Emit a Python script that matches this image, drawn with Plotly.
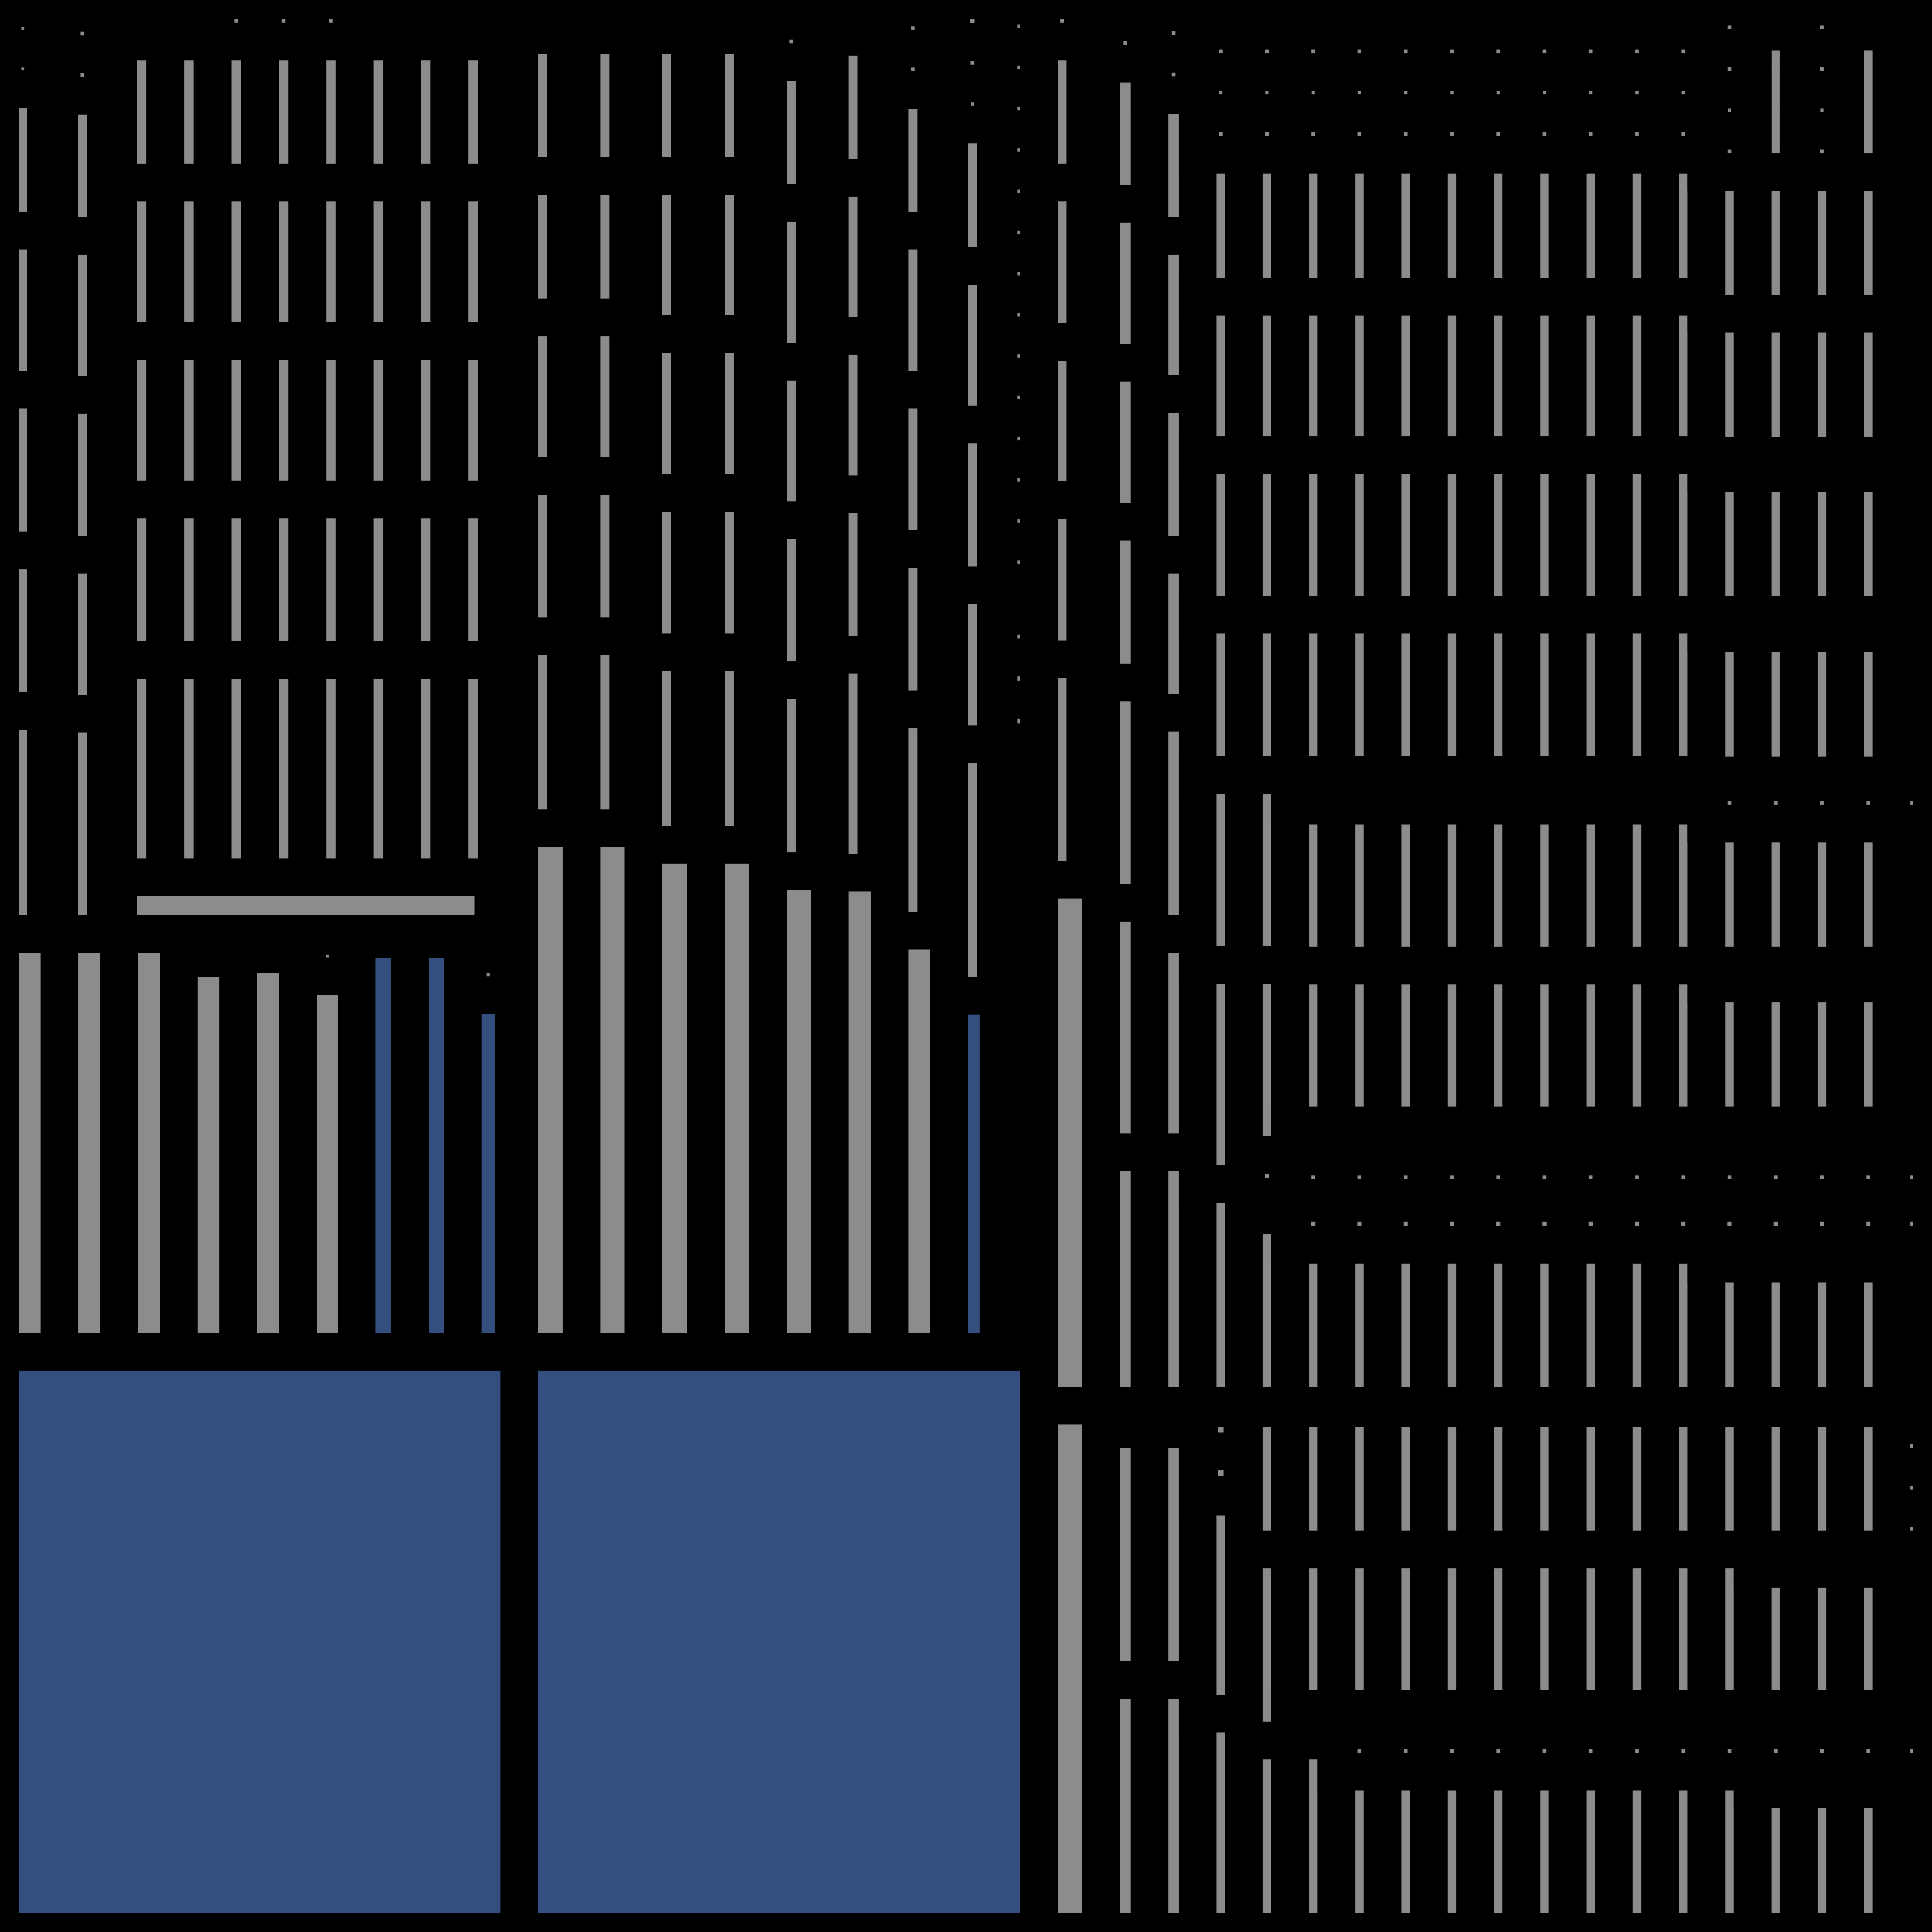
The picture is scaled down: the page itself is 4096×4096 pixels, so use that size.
import plotly.graph_objects as go

# ------------------------------------------------------------------
# DATA : relative tile sizes (nested treemap).
# kinds: g = regular item, b = highlighted item, k = tiny filler item
# ------------------------------------------------------------------
TOP_SPLIT = [1101, 1102, 1893]                     # A1, A2, right block

# --- block A1 ---
A1_ROWS = [1980, 886, 1230]                         # upper, middle, big item
A1_TOP_COLS = [97, 28, 99, 26, 851]
COL_A = [17, 86, 86, 300, 337, 341, 340, 473]; COL_A_K = "kggggggg"
COL_B = [27, 88, 88, 297, 337, 339, 337, 467]; COL_B_K = "kggggggg"
GRID_ROWS = [1860, 120]
GRID_COLS = [100.4] * 8 + [48]
GRID_COL = [88, 299, 336, 336, 340, 461]
GRID_KINDS = ["kggggg", "kggggg", "gggggg", "gggggg", "gggggg", "kggggg", "kggggg", "kggggg"]
HBAR_ROW = [796, 55]; HBAR_K = "gk"
A1_MID_COLS = [126, 126, 127, 126, 127, 124, 113, 112, 108, 12]
A1_MID = [[886], [886], [886], [51, 835], [43, 843], [4, 86, 796], [11, 875], [11, 875], [43, 87, 756], [886]]
A1_MID_K = ["g", "g", "g", "kg", "kg", "kgg", "kb", "kb", "kgb", "k"]

# --- block A2 ---
A2_ROWS = [2866, 1230]
A2_COLS = [132, 131, 133, 131, 131, 127, 126, 105, 86]
A2_NARROW = 99
A2_UPPER = [
    [75, 298, 300, 336, 340, 407],
    [75, 298, 300, 336, 340, 407],
    [75, 298, 335, 337, 338, 408],
    [75, 298, 335, 337, 338, 408],
    [44, 88, 298, 337, 336, 339, 405],
    [78, 299, 335, 336, 340, 462],
    [16, 87, 88, 298, 337, 338, 340, 469],
    [89, 88, 87, 300, 336, 341, 337, 533],
]
A2_UPPER_K = ["kggggg", "kggggg", "kggggg", "kggggg", "kgggggg", "kggggg", "kggggggg", "gggggggg"]
A2_MID = [1110, 1110, 1075, 1075, 1019, 1016, 893, 755]
A2_MID_K = "gggggggb"
A2_DOTS = [12] + [87.4] * 14 + [70, 88, 90, 90, 1292]
A2_DOTS_K = "k" + "g" * 14 + "kgggk"

# --- right block ---
R_ROWS = [2980, 1116]
R_COLS = [131, 103, 102] + [98.07] * 15 + [86]
C1_NARROW = [98, 33]
C1_UP = [1865, 1115]
C1_ROWS = [88, 299, 338, 335, 338, 467]; C1_ROWS_K = "gggggg"
C2_UP = [47, 88, 297, 337, 337, 341, 467, 529, 537]; C2_UP_K = "kgggggggg"
C3_UP = [26, 88, 88, 298, 335, 341, 335, 469, 463, 537]; C3_UP_K = "kggggggggg"
D1_UP = [65, 88, 87, 88, 301, 336, 338, 340, 403, 464, 470]; D1_UP_K = "kgggggggggg"
D2_UP = [65, 88, 87, 88, 301, 336, 338, 340, 403, 403, 88, 39, 404]; D2_UP_K = "kggggggggggkg"
D3_UP = [65, 88, 87, 88, 301, 336, 338, 340, 65, 339, 339, 66, 88, 10, 89, 341]; D3_UP_K = "kgggggggkggkgkgg"
D12_UP = [14, 88, 88, 87, 88, 300, 302, 36, 300, 39, 302, 14, 88, 301, 38, 301, 66, 88, 10, 89, 40, 301]
D12_UP_K = "kggggggkgkgkggkgkgkgkg"
D13_UP = [67, 298, 300, 302, 36, 300, 39, 302, 14, 88, 301, 38, 301, 66, 88, 10, 89, 40, 301]
D13_UP_K = "kgggkgkgkggkgkgkgkg"
D16_UP = [1658, 88, 706, 88, 10, 89, 341]; D16_UP_K = "kgkgkgk"

C1_LOW = [1116]; C1_LOW_K = "g"
C2_LOW = [50, 532, 534]; C2_LOW_K = "kgg"
D1_LOW = [5, 92, 92, 4, 460, 463]; D1_LOW_K = "kggkgg"
D2_LOW = [5, 300, 405, 406]; D2_LOW_K = "kggg"
D3_LOW = [5, 300, 338, 67, 406]; D3_LOW_K = "kggkg"
D4_LOW = [5, 300, 338, 45, 88, 340]; D4_LOW_K = "kggkgg"
D13_LOW = [5, 300, 41, 297, 45, 88, 37, 303]; D13_LOW_K = "kgkgkgkg"
D16_LOW = [42, 88, 88, 87, 383, 88, 340]; D16_LOW_K = "kgggkgk"

# ------------------------------------------------------------------
GRAY = "#8c8c8c"
BLUE = "#344e7f"
BG = "#000000"
KIND_COLOR = {"g": GRAY, "b": BLUE, "k": BG}
GAP = 80          # black outline around every tile


def leaf(size, kind):
    return {"size": size, "kind": kind}


def leaves(sizes, kinds):
    return [leaf(s, k) for s, k in zip(sizes, kinds)]


def node(size, children):
    return {"size": size, "children": children}


# block A1
a1_top = node(A1_ROWS[0], [
    node(A1_TOP_COLS[0], leaves(COL_A, COL_A_K)),
    leaf(A1_TOP_COLS[1], "k"),
    node(A1_TOP_COLS[2], leaves(COL_B, COL_B_K)),
    leaf(A1_TOP_COLS[3], "k"),
    node(A1_TOP_COLS[4], [
        node(GRID_ROWS[0],
             [node(GRID_COLS[i], leaves(GRID_COL, GRID_KINDS[i])) for i in range(8)]
             + [leaf(GRID_COLS[8], "k")]),
        node(GRID_ROWS[1], leaves(HBAR_ROW, HBAR_K)),
    ]),
])
a1_mid = node(A1_ROWS[1], [node(w, leaves(r, k)) for w, r, k in zip(A1_MID_COLS, A1_MID, A1_MID_K)])
A1 = node(TOP_SPLIT[0], [a1_top, a1_mid, leaf(A1_ROWS[2], "b")])

# block A2
a2_cols = []
for i in range(8):
    w = A2_COLS[i]
    up = A2_UPPER[i]
    a2_cols.append(node(w, [
        node(sum(up), [node(A2_NARROW, leaves(up, A2_UPPER_K[i])), leaf(w - A2_NARROW, "k")]),
        leaf(A2_MID[i], A2_MID_K[i]),
    ]))
a2_cols.append(node(A2_COLS[8], leaves(A2_DOTS, A2_DOTS_K)))
A2 = node(TOP_SPLIT[1], [node(A2_ROWS[0], a2_cols), leaf(A2_ROWS[1], "b")])

# right block
up_cols_rows = ([None, (C2_UP, C2_UP_K), (C3_UP, C3_UP_K), (D1_UP, D1_UP_K), (D2_UP, D2_UP_K)]
                + [(D3_UP, D3_UP_K)] * 9
                + [(D12_UP, D12_UP_K), (D13_UP, D13_UP_K), (D12_UP, D12_UP_K), (D13_UP, D13_UP_K)]
                + [(D16_UP, D16_UP_K)])
low_cols_rows = ([(C1_LOW, C1_LOW_K), (C2_LOW, C2_LOW_K), (C2_LOW, C2_LOW_K),
                  (D1_LOW, D1_LOW_K), (D2_LOW, D2_LOW_K), (D3_LOW, D3_LOW_K)]
                 + [(D4_LOW, D4_LOW_K)] * 9
                 + [(D13_LOW, D13_LOW_K)] * 3
                 + [(D16_LOW, D16_LOW_K)])
up_cols = []
for i, w in enumerate(R_COLS):
    if i == 0:
        up_cols.append(node(w, [
            node(C1_UP[0], [node(C1_NARROW[0], leaves(C1_ROWS, C1_ROWS_K)), leaf(C1_NARROW[1], "k")]),
            leaf(C1_UP[1], "g"),
        ]))
    else:
        r, k = up_cols_rows[i]
        up_cols.append(node(w, leaves(r, k)))
low_cols = [node(w, leaves(r, k)) for w, (r, k) in zip(R_COLS, low_cols_rows)]
RIGHT = node(TOP_SPLIT[2], [node(R_ROWS[0], up_cols), node(R_ROWS[1], low_cols)])

ROOT = node(1, [A1, A2, RIGHT])

# ------------------------------------------------------------------
ids, parents, values, colors = [], [], [], []
counter = [0]


def new_id(parent_id, color, value):
    nid = "t%d" % counter[0]
    counter[0] += 1
    ids.append(nid)
    parents.append(parent_id)
    colors.append(color)
    values.append(value)
    return nid


def walk(nd, parent_id, w, h, depth):
    if "children" not in nd:
        kind = nd["kind"]
        # small items that sit in a wider column are drawn as small centred squares
        if kind != "k" and depth % 2 == 0 and h < GAP + 16 and w > h + 4:
            nid = new_id(parent_id, BG, 0)
            side = (w - h) / 2.0
            new_id(nid, BG, side * h)
            new_id(nid, KIND_COLOR[kind], h * h)
            new_id(nid, BG, side * h)
            return
        new_id(parent_id, KIND_COLOR[kind], w * h)
        return
    nid = new_id(parent_id, BG, 0)
    kids = nd["children"]
    total = sum(c["size"] for c in kids)
    for c in kids:
        if depth % 2 == 0:   # columns
            walk(c, nid, w * c["size"] / total, h, depth + 1)
        else:                # rows
            walk(c, nid, w, h * c["size"] / total, depth + 1)


walk(ROOT, "", 4096.0, 4096.0, 0)

fig = go.Figure(go.Treemap(
    ids=ids, labels=ids, parents=parents, values=values,
    branchvalues="remainder", sort=False,
    tiling=dict(packing="slice-dice", pad=0),
    marker=dict(colors=colors, line=dict(width=GAP, color=BG),
                pad=dict(t=0, l=0, r=0, b=0), depthfade=False),
    pathbar=dict(visible=False), textinfo="none", hoverinfo="skip",
    root=dict(color=BG),
    domain=dict(x=[0, 1], y=[0, 1]),
))
fig.update_layout(width=4096, height=4096, margin=dict(l=0, r=0, t=0, b=0),
                  paper_bgcolor=BG, plot_bgcolor=BG, showlegend=False)
fig.write_html("out.html", config={"staticPlot": True, "displayModeBar": False})
